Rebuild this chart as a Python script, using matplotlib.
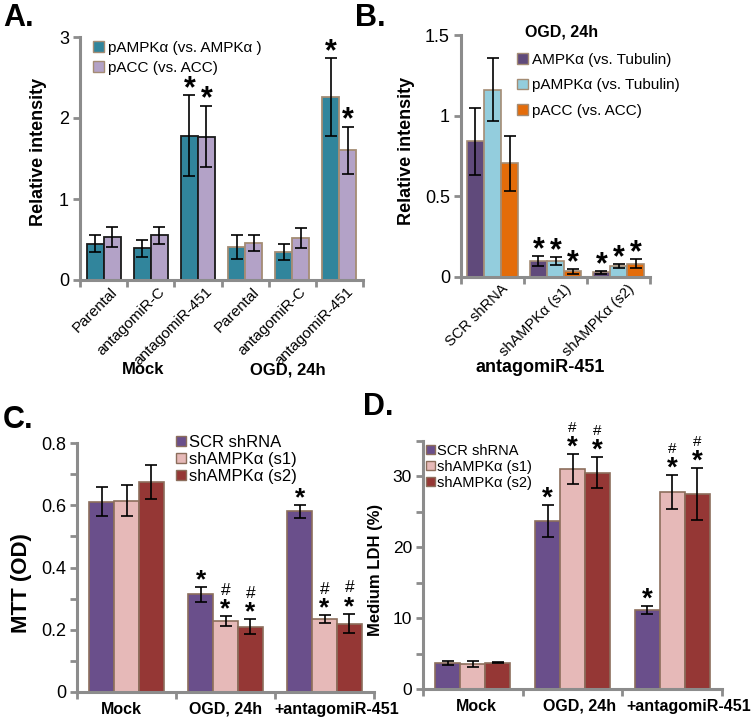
import numpy as np
import matplotlib
matplotlib.use("Agg")
import matplotlib.pyplot as plt
from matplotlib.patches import Patch

plt.rcParams['font.family'] = ['Liberation Sans', 'DejaVu Sans']

W, H = 754, 718

# ---- panel A data
a_cats = ['Parental', 'antagomiR-C', 'antagomiR-451', 'Parental', 'antagomiR-C', 'antagomiR-451']
a_groups = ['Mock', 'OGD, 24h']
a_series = ['pAMPKα (vs. AMPKα )', 'pACC (vs. ACC)']
a_pampk = [0.45, 0.39, 1.78, 0.41, 0.35, 2.26]
a_pampk_err = [0.11, 0.10, 0.50, 0.15, 0.10, 0.48]
a_pacc = [0.53, 0.55, 1.77, 0.46, 0.52, 1.60]
a_pacc_err = [0.12, 0.11, 0.38, 0.10, 0.12, 0.29]
a_star = [False, False, True, False, False, True]

# ---- panel B data
b_cats = ['SCR shRNA', 'shAMPKα (s1)', 'shAMPKα (s2)']
b_series = ['AMPKα (vs. Tubulin)', 'pAMPKα (vs. Tubulin)', 'pACC (vs. ACC)']
b_ampk = [0.84, 0.100, 0.028]
b_ampk_err = [0.21, 0.030, 0.010]
b_pampk = [1.16, 0.100, 0.066]
b_pampk_err = [0.195, 0.025, 0.013]
b_pacc = [0.705, 0.035, 0.083]
b_pacc_err = [0.17, 0.015, 0.030]
b_star = [False, True, True]

# ---- panel C / D data
cd_cats = ['Mock', 'OGD, 24h', '+antagomiR-451']
cd_series = ['SCR shRNA', 'shAMPKα (s1)', 'shAMPKα (s2)']
c_scr = [0.612, 0.314, 0.580]
c_scr_err = [0.046, 0.024, 0.020]
c_s1 = [0.615, 0.228, 0.234]
c_s1_err = [0.051, 0.016, 0.012]
c_s2 = [0.675, 0.210, 0.220]
c_s2_err = [0.054, 0.024, 0.031]
d_scr = [3.7, 23.7, 11.1]
d_scr_err = [0.3, 2.2, 0.55]
d_s1 = [3.5, 31.0, 27.8]
d_s1_err = [0.45, 2.1, 2.4]
d_s2 = [3.7, 30.5, 27.5]
d_s2_err = [0.1, 2.2, 3.7]
cd_star = [False, True, True]
cd_hash = [False, True, True]

AXIS_GRAY = '#8c8c8c'
TAN = '#a48c74'
BROWN = '#8c6e5c'


def fx(px):
    return px / W


def fy(py):
    return 1 - py / H


def make_axes(fig, left, right, top, bottom):
    ax = fig.add_axes([fx(left), fy(bottom), fx(right - left), (bottom - top) / H])
    for s in ['top', 'right']:
        ax.spines[s].set_visible(False)
    for s in ['left', 'bottom']:
        ax.spines[s].set_color(AXIS_GRAY)
        ax.spines[s].set_linewidth(2.2)
    ax.tick_params(axis='y', which='both', direction='out', color=AXIS_GRAY,
                   width=2, labelsize=13, pad=3, length=5)
    ax.tick_params(axis='x', which='major', length=0)
    ax.tick_params(axis='x', which='minor', length=5, width=2, color=AXIS_GRAY)
    return ax


def star(ax, x, y, size, gap):
    # baseline pulled down so the glyph's ink starts `gap` points above y
    ax.annotate('*', (x, y), xytext=(0, gap - 0.17 * size), textcoords='offset points',
                ha='center', va='baseline', fontsize=size, fontweight='bold')


fig = plt.figure(figsize=(W / 100, H / 100), dpi=100)

# ================= A =================
ax = make_axes(fig, 80, 363, 37, 280)
n = len(a_cats)
x = np.arange(n)
bw = 0.36
edges = ['#1a1a1a'] * 3 + [TAN] * 3
ax.bar(x - bw / 2, a_pampk, bw, color='#31859c', edgecolor=edges, linewidth=1.3)
ax.bar(x + bw / 2, a_pacc, bw, color='#b3a2c7', edgecolor=edges, linewidth=1.3)
ax.errorbar(x - bw / 2, a_pampk, yerr=a_pampk_err, fmt='none', ecolor='black', elinewidth=1.2, capsize=4, capthick=1.2)
ax.errorbar(x + bw / 2, a_pacc, yerr=a_pacc_err, fmt='none', ecolor='black', elinewidth=1.2, capsize=4, capthick=1.2)
for i in range(n):
    if a_star[i]:
        star(ax, x[i] - bw / 2, a_pampk[i] + a_pampk_err[i], 22, 2.5)
        star(ax, x[i] + bw / 2, a_pacc[i] + a_pacc_err[i], 22, 2.5)
ax.set_xlim(-0.5, n - 0.5)
ax.set_ylim(0, 3)
ax.set_yticks([0, 1, 2, 3])
# label anchors sit a little right of the category centres (major ticks are invisible)
ax.set_xticks(x + 0.15)
ax.set_xticklabels(a_cats, rotation=45, ha='right', rotation_mode='anchor', fontsize=11)
ax.set_xticks(np.arange(-0.5, n, 1), minor=True)
ax.set_ylabel('Relative intensity', fontsize=13, fontweight='bold')
ax.yaxis.set_label_coords(fx(47), fy(152), transform=fig.transFigure)
ax.legend(handles=[Patch(facecolor='#31859c', edgecolor=TAN, label=a_series[0]),
                   Patch(facecolor='#b3a2c7', edgecolor=TAN, label=a_series[1])],
          loc='upper left', bbox_to_anchor=(fx(93), fy(41)), bbox_transform=fig.transFigure,
          frameon=False, fontsize=11, handlelength=0.7, handleheight=0.7,
          handletextpad=0.25, labelspacing=0.4, borderaxespad=0, borderpad=0)
fig.text(fx(143), fy(370), a_groups[0], ha='center', va='center', fontsize=12, fontweight='bold')
fig.text(fx(288), fy(370), a_groups[1], ha='center', va='center', fontsize=12, fontweight='bold')

# ================= B =================
ax = make_axes(fig, 461, 650, 35, 277)
n = len(b_cats)
x = np.arange(n)
bw = 0.27
vals = [b_ampk, b_pampk, b_pacc]
errs = [b_ampk_err, b_pampk_err, b_pacc_err]
cols = ['#604a7b', '#93cddd', '#e46c0a']
for k in range(3):
    xs = x + (k - 1) * bw
    ax.bar(xs, vals[k], bw, color=cols[k], edgecolor=TAN, linewidth=1.2)
    ax.errorbar(xs, vals[k], yerr=errs[k], fmt='none', ecolor='black', elinewidth=1.2, capsize=4, capthick=1.2)
    for i in range(n):
        if b_star[i]:
            star(ax, xs[i], vals[k][i] + errs[k][i], 22, 2)
ax.set_xlim(-0.5, n - 0.5)
ax.set_ylim(0, 1.5)
ax.set_yticks([0, 0.5, 1, 1.5])
ax.set_yticklabels(['0', '0.5', '1', '1.5'])
ax.set_xticks(x + 0.14)
ax.set_xticklabels(b_cats, rotation=45, ha='right', rotation_mode='anchor', fontsize=10.5)
ax.set_xticks(np.arange(-0.5, n, 1), minor=True)
ax.set_ylabel('Relative intensity', fontsize=13, fontweight='bold')
ax.yaxis.set_label_coords(fx(415), fy(151), transform=fig.transFigure)
ax.legend(handles=[Patch(facecolor=c, edgecolor=TAN, label=l) for c, l in zip(cols, b_series)],
          loc='upper left', bbox_to_anchor=(fx(517), fy(53)), bbox_transform=fig.transFigure,
          frameon=False, fontsize=11, handlelength=0.7, handleheight=0.7,
          handletextpad=0.25, labelspacing=0.75, borderaxespad=0, borderpad=0)
fig.text(fx(562), fy(32), 'OGD, 24h', ha='center', va='center', fontsize=11.5, fontweight='bold')
fig.text(fx(540), fy(368), 'antagomiR-451', ha='center', va='center', fontsize=13, fontweight='bold')

# ================= C / D =================
cd_cols = ['#6a4f8b', '#e6b9b8', '#953735']


def panel_cd(ax, vals, errs, star_size, hash_size, gap, label_shift):
    n = len(cd_cats)
    x = np.arange(n)
    bw = 0.25
    for k in range(3):
        xs = x + (k - 1) * bw
        ax.bar(xs, vals[k], bw, color=cd_cols[k], edgecolor=BROWN, linewidth=1.2)
        ax.errorbar(xs, vals[k], yerr=errs[k], fmt='none', ecolor='black', elinewidth=1.2, capsize=4, capthick=1.2)
        for i in range(n):
            top = vals[k][i] + errs[k][i]
            if cd_star[i]:
                star(ax, xs[i], top, star_size, gap)
            if cd_hash[i] and k > 0:
                ax.annotate('#', (xs[i], top), xytext=(0, gap + 0.5 * star_size + 3),
                            textcoords='offset points', ha='center', va='baseline',
                            fontsize=hash_size)
    ax.set_xlim(-0.5, n - 0.5)
    ax.set_xticks(x + np.array(label_shift))
    ax.set_xticklabels(cd_cats, fontsize=11.5, fontweight='bold')
    ax.set_xticks(np.arange(-0.5, n, 1), minor=True)
    ax.tick_params(axis='x', which='major', pad=7)


ax = make_axes(fig, 77, 374, 443, 692)
panel_cd(ax, [c_scr, c_s1, c_s2], [c_scr_err, c_s1_err, c_s2_err], 19, 12.5, 3, [-0.05, 0, 0.12])
ax.set_ylim(0, 0.8)
ax.set_yticks([0, 0.2, 0.4, 0.6, 0.8])
ax.set_yticklabels(['0', '0.2', '0.4', '0.6', '0.8'])
ax.set_yticks(np.arange(0, 0.81, 0.1), minor=True)
ax.set_ylabel('MTT (OD)', fontsize=16, fontweight='bold')
ax.yaxis.set_label_coords(fx(32), fy(583), transform=fig.transFigure)
ax.legend(handles=[Patch(facecolor=c, edgecolor=BROWN, label=l) for c, l in zip(cd_cols, cd_series)],
          loc='upper left', bbox_to_anchor=(fx(176), fy(435)), bbox_transform=fig.transFigure,
          frameon=False, fontsize=12, handlelength=0.6, handleheight=0.6,
          handletextpad=0.2, labelspacing=0.12, borderaxespad=0, borderpad=0)

ax = make_axes(fig, 423, 722, 441, 689)
panel_cd(ax, [d_scr, d_s1, d_s2], [d_scr_err, d_s1_err, d_s2_err], 20, 11, 3, [0.04, 0.07, 0.17])
ax.set_ylim(0, 35)
ax.set_yticks([0, 10, 20, 30])
ax.set_yticks([5, 15, 25, 35], minor=True)
ax.tick_params(axis='y', labelsize=12.5)
ax.set_ylabel('Medium LDH (%)', fontsize=12, fontweight='bold')
ax.yaxis.set_label_coords(fx(383), fy(570), transform=fig.transFigure)
ax.legend(handles=[Patch(facecolor=c, edgecolor=BROWN, label=l) for c, l in zip(cd_cols, cd_series)],
          loc='upper left', bbox_to_anchor=(fx(426), fy(444)), bbox_transform=fig.transFigure,
          frameon=False, fontsize=10.5, handlelength=0.6, handleheight=0.6,
          handletextpad=0.15, labelspacing=0.12, borderaxespad=0, borderpad=0)

# panel letters
for lbl, px, py in [('A.', 3, 18), ('B.', 355, 18), ('C.', 3, 420), ('D.', 363, 407)]:
    fig.text(fx(px), fy(py), lbl, ha='left', va='center', fontsize=22, fontweight='bold')

fig.savefig('out.png', dpi=100)
